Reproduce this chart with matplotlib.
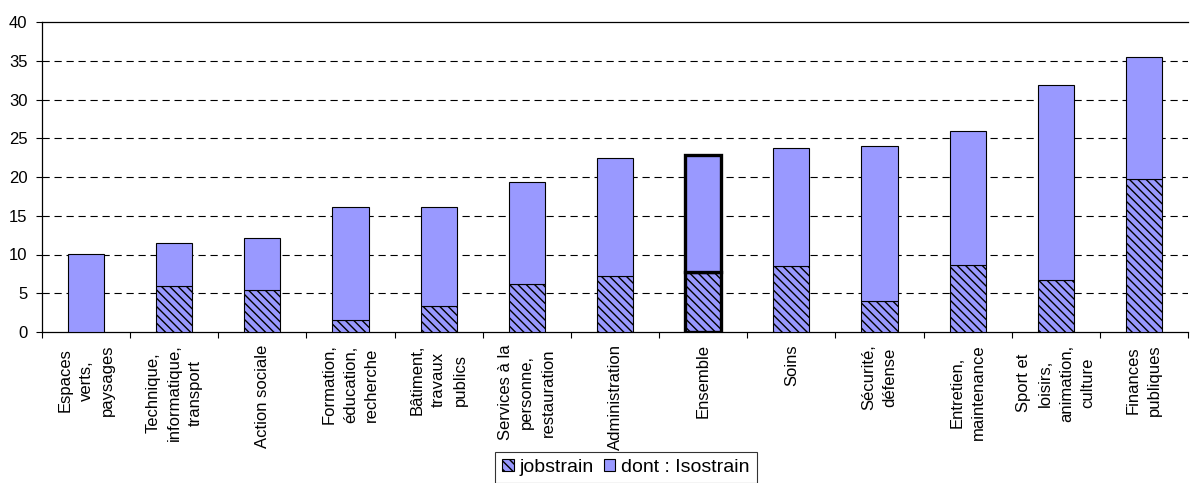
import matplotlib
matplotlib.use("Agg")
import matplotlib.pyplot as plt
import numpy as np

categories = [
    "Espaces\nverts,\npaysages",
    "Technique,\ninformatique,\ntransport",
    "Action sociale",
    "Formation,\néducation,\nrecherche",
    "Bâtiment,\ntravaux\npublics",
    "Services à la\npersonne,\nrestauration",
    "Administration",
    "Ensemble",
    "Soins",
    "Sécurité,\ndéfense",
    "Entretien,\nmaintenance",
    "Sport et\nloisirs,\nanimation,\nculture",
    "Finances\npubliques",
]
jobstrain_total = [10.1, 11.5, 12.1, 16.1, 16.1, 19.4, 22.4, 22.8, 23.8, 24.0, 26.0, 31.9, 35.5]
isostrain_part = [0.0, 6.0, 5.4, 1.6, 3.4, 6.2, 7.2, 7.7, 8.5, 4.0, 8.7, 6.7, 19.7]
yticks = [0, 5, 10, 15, 20, 25, 30, 35, 40]

plt.rcParams['font.family'] = ['Liberation Sans', 'DejaVu Sans']
plt.rcParams['hatch.linewidth'] = 1.0
plt.rcParams['hatch.color'] = '#1a1a40'

fig = plt.figure(figsize=(11.9, 4.83), dpi=100)
ax = fig.add_axes([42/1190, 1-332/483, 1146/1190, 310/483])

x = np.arange(len(categories))
fill = '#9999FF'
lws = [0.8] * len(categories)
ens = categories.index("Ensemble")
lws[ens] = 2.4
upper = [t - h for t, h in zip(jobstrain_total, isostrain_part)]

b1 = ax.bar(x, isostrain_part, width=0.41, color=fill, edgecolor='black',
            linewidth=lws, hatch='\\\\\\\\', label='jobstrain', zorder=3)
b2 = ax.bar(x, upper, bottom=isostrain_part, width=0.41, color=fill,
            edgecolor='black', linewidth=lws, label='dont : Isostrain', zorder=3)

ax.set_xlim(-0.5, len(categories) - 0.5)
ax.set_ylim(0, 40)
ax.set_yticks(yticks)
ax.tick_params(axis='y', length=4, width=0.8, pad=6.5, labelsize=12)
for y in yticks[1:-1]:
    ax.axhline(y, color='black', lw=0.8, linestyle=(0, (6.5, 4.3)), zorder=1)

ax.set_xticks(x)
ax.set_xticklabels(categories, rotation=90, ha='center', va='top',
                   multialignment='center', linespacing=1.52, fontsize=12)
ax.tick_params(axis='x', which='major', length=0, pad=9)
ax.set_xticks(np.arange(-0.5, len(categories)), minor=True)
ax.tick_params(axis='x', which='minor', length=4, width=0.8)

for s in ['left', 'bottom', 'top']:
    ax.spines[s].set_linewidth(0.9)
ax.spines['right'].set_visible(False)

leg = ax.legend(handles=[b1, b2], loc='upper center', bbox_to_anchor=(626/1190, 1-452/483),
                bbox_transform=fig.transFigure, ncol=2, frameon=True, fancybox=False,
                edgecolor='black', fontsize=14, handlelength=0.6, handleheight=0.6,
                handletextpad=0.3, columnspacing=0.5, borderpad=0.35, borderaxespad=0)
leg.get_frame().set_linewidth(0.8)
for h in leg.legend_handles:
    h.set_linewidth(0.8)

fig.savefig("out.png", dpi=100)
